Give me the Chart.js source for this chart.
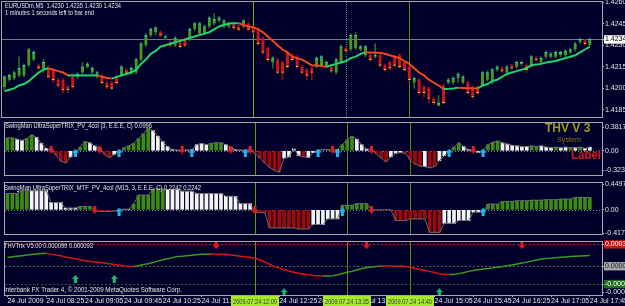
<!DOCTYPE html>
<html>
<head>
<meta charset="utf-8">
<script src="https://cdn.jsdelivr.net/npm/chart.js@4.4.1/dist/chart.umd.min.js"></script>
<style>
  html, body { margin: 0; padding: 0; background: #00002a; width: 625px; height: 306px; overflow: hidden; }
  canvas { position: absolute; left: 0; }
</style>
</head>
<body>
<canvas id="price" width="625" height="119" style="top:0px"></canvas>
<canvas id="trix" width="625" height="62" style="top:118px"></canvas>
<canvas id="mtf" width="625" height="61" style="top:178px"></canvas>
<canvas id="thv" width="625" height="69" style="top:237px"></canvas>
<script>
// 5 minute bars, 24 Jul 2009 from 07:45
var bars = [];
for (var i = 0; i < 123; i++) {
  var m = 7 * 60 + 45 + i * 5;
  bars.push(('0' + Math.floor(m / 60)).slice(-2) + ':' + ('0' + m % 60).slice(-2));
}
var timeLabels = ["24 Jul 2009", "24 Jul 08:25", "24 Jul 09:05", "24 Jul 09:45", "24 Jul 10:25", "24 Jul 11:05",
  "24 Jul 11:45", "24 Jul 12:25", "24 Jul 13:05", "24 Jul 13:45", "24 Jul 14:25", "24 Jul 15:05",
  "24 Jul 15:45", "24 Jul 16:25", "24 Jul 17:05", "24 Jul 17:45"];
var vLines = [51, 70, 83];
var vLineText = ["2009.07.24 12:00", "2009.07.24 13:35", "2009.07.24 14:40"];

var opens = [1.4201,1.4206,1.4207,1.4209,1.4209,1.4216,1.4220,1.4216,1.4213,1.4214,
  1.4213,1.4206,1.4206,1.4201,1.4208,1.4208,1.4211,1.4215,1.4211,1.4208,
  1.4209,1.4204,1.4204,1.4208,1.4209,1.4213,1.4211,1.4211,1.4220,1.4230,
  1.4237,1.4239,1.4239,1.4235,1.4232,1.4230,1.4234,1.4234,1.4234,1.4241,
  1.4238,1.4238,1.4243,1.4245,1.4247,1.4243,1.4243,1.4245,1.4243,1.4243,
  1.4245,1.4242,1.4241,1.4235,1.4228,1.4218,1.4220,1.4218,1.4225,1.4223,
  1.4222,1.4215,1.4213,1.4214,1.4215,1.4216,1.4215,1.4215,1.4211,1.4218,
  1.4228,1.4227,1.4228,1.4227,1.4223,1.4223,1.4222,1.4223,1.4216,1.4218,
  1.4222,1.4223,1.4218,1.4215,1.4204,1.4206,1.4201,1.4200,1.4193,1.4188,
  1.4202,1.4204,1.4204,1.4207,1.4204,1.4204,1.4201,1.4201,1.4202,1.4206,
  1.4204,1.4213,1.4214,1.4211,1.4216,1.4215,1.4217,1.4216,1.4216,1.4221,
  1.4218,1.4222,1.4222,1.4222,1.4223,1.4223,1.4225,1.4227,1.4232,1.4233,1.4230];
var closes = [1.4208,1.4209,1.4211,1.4214,1.4216,1.4227,1.4225,1.4214,1.4218,1.4208,
  1.4206,1.4202,1.4199,1.4199,1.4201,1.4210,1.4215,1.4217,1.4214,1.4211,
  1.4204,1.4201,1.4200,1.4204,1.4215,1.4211,1.4214,1.4220,1.4231,1.4237,
  1.4241,1.4242,1.4237,1.4236,1.4230,1.4235,1.4229,1.4230,1.4241,1.4245,
  1.4245,1.4243,1.4249,1.4248,1.4249,1.4247,1.4245,1.4242,1.4241,1.4247,
  1.4241,1.4239,1.4231,1.4225,1.4220,1.4221,1.4211,1.4211,1.4215,1.4220,
  1.4215,1.4211,1.4209,1.4211,1.4221,1.4222,1.4218,1.4212,1.4220,1.4229,
  1.4226,1.4237,1.4237,1.4229,1.4229,1.4220,1.4223,1.4216,1.4213,1.4214,
  1.4216,1.4215,1.4213,1.4206,1.4207,1.4197,1.4197,1.4193,1.4190,1.4190,
  1.4190,1.4206,1.4207,1.4210,1.4208,1.4197,1.4194,1.4197,1.4211,1.4211,
  1.4213,1.4215,1.4212,1.4215,1.4214,1.4218,1.4218,1.4213,1.4222,1.4220,
  1.4221,1.4225,1.4224,1.4225,1.4225,1.4226,1.4227,1.4231,1.4234,1.4231,1.4234];
var highs = [1.4209,1.4210,1.4212,1.4222,1.4217,1.4228,1.4226,1.4217,1.4220,1.4216,
  1.4214,1.4207,1.4207,1.4202,1.4210,1.4211,1.4218,1.4218,1.4215,1.4212,
  1.4210,1.4205,1.4205,1.4209,1.4216,1.4214,1.4215,1.4221,1.4232,1.4238,
  1.4242,1.4243,1.4240,1.4237,1.4233,1.4236,1.4235,1.4235,1.4242,1.4246,
  1.4246,1.4244,1.4250,1.4252,1.4250,1.4248,1.4246,1.4246,1.4244,1.4248,
  1.4246,1.4243,1.4242,1.4236,1.4229,1.4222,1.4221,1.4219,1.4226,1.4224,
  1.4223,1.4216,1.4214,1.4215,1.4222,1.4223,1.4219,1.4216,1.4221,1.4230,
  1.4229,1.4238,1.4239,1.4230,1.4230,1.4224,1.4231,1.4224,1.4217,1.4219,
  1.4223,1.4224,1.4219,1.4216,1.4208,1.4207,1.4202,1.4201,1.4194,1.4195,
  1.4203,1.4207,1.4208,1.4211,1.4209,1.4205,1.4202,1.4202,1.4212,1.4212,
  1.4214,1.4216,1.4215,1.4216,1.4217,1.4219,1.4219,1.4217,1.4223,1.4222,
  1.4222,1.4226,1.4225,1.4226,1.4226,1.4227,1.4228,1.4232,1.4235,1.4234,1.4235];
var lows = [1.4199,1.4205,1.4206,1.4208,1.4208,1.4215,1.4219,1.4213,1.4211,1.4207,
  1.4204,1.4201,1.4197,1.4197,1.4200,1.4207,1.4210,1.4214,1.4210,1.4207,
  1.4203,1.4200,1.4199,1.4203,1.4208,1.4210,1.4210,1.4210,1.4219,1.4229,
  1.4236,1.4237,1.4236,1.4234,1.4229,1.4229,1.4228,1.4229,1.4233,1.4240,
  1.4237,1.4237,1.4242,1.4244,1.4246,1.4242,1.4242,1.4241,1.4240,1.4242,
  1.4240,1.4238,1.4230,1.4224,1.4219,1.4214,1.4210,1.4206,1.4214,1.4219,
  1.4214,1.4210,1.4206,1.4206,1.4214,1.4215,1.4214,1.4211,1.4210,1.4217,
  1.4225,1.4226,1.4227,1.4226,1.4222,1.4219,1.4221,1.4215,1.4212,1.4213,
  1.4215,1.4214,1.4212,1.4205,1.4200,1.4196,1.4194,1.4190,1.4189,1.4188,
  1.4189,1.4203,1.4203,1.4204,1.4203,1.4196,1.4193,1.4196,1.4201,1.4205,
  1.4203,1.4212,1.4211,1.4210,1.4213,1.4214,1.4216,1.4211,1.4215,1.4219,
  1.4217,1.4221,1.4221,1.4221,1.4222,1.4222,1.4224,1.4226,1.4231,1.4230,1.4230];
var ma = [1.4198,1.4199,1.4200,1.4202,1.4203,1.4205,1.4208,1.4211,1.4213,1.4214,
  1.4213,1.4212,1.4211,1.4209,1.4209,1.4209,1.4209,1.4209,1.4209,1.4209,
  1.4208,1.42072,1.42068,1.4208,1.4209,1.4210,1.4211,1.4213,1.4217,1.4220,
  1.4224,1.4226,1.4229,1.4230,1.4231,1.4232,1.4233,1.4234,1.4235,1.4236,
  1.4237,1.4238,1.4239,1.4241,1.4243,1.4244,1.4245,1.42452,1.42453,1.4244,
  1.4243,1.42425,1.4241,1.4239,1.4236,1.4233,1.4230,1.4227,1.4225,1.4222,
  1.4221,1.4220,1.4218,1.4216,1.42158,1.42155,1.4215,1.4216,1.4217,1.4218,
  1.4219,1.4221,1.4222,1.4224,1.4225,1.42249,1.42248,1.42247,1.4224,1.4223,
  1.4222,1.4221,1.4219,1.4217,1.4214,1.4211,1.4209,1.4206,1.4204,1.4202,
  1.41996,1.41997,1.41999,1.42005,1.42003,1.42001,1.4200,1.41999,1.4202,1.4203,
  1.4205,1.4206,1.4208,1.4210,1.4211,1.4212,1.4213,1.4214,1.4216,1.42165,
  1.4217,1.4218,1.42185,1.4219,1.4220,1.4221,1.4222,1.4223,1.4225,1.4227,1.4229];
var bid = 1.4234;
var priceTicks = [1.4185, 1.4200, 1.4215, 1.4230, 1.4234, 1.4245, 1.4260];

var trixVal = [0.21,0.21,0.19,0.17,0.20,0.26,0.22,0.12,0.04,0.02,
  -0.07,-0.17,-0.20,-0.10,-0.03,0.06,0.15,0.13,0.08,0.04,
  -0.06,-0.11,-0.06,-0.02,0.05,0.08,0.12,0.20,0.28,0.37,
  0.33,0.24,0.15,0.07,0.02,0.01,0.005,0.01,0.02,0.10,
  0.12,0.10,0.12,0.13,0.13,0.10,0.06,0.02,0.01,0.01,
  0.02,-0.04,-0.12,-0.20,-0.27,-0.32,-0.35,-0.12,-0.10,0.03,
  -0.08,-0.10,-0.11,-0.03,0.01,0.02,0.02,0.01,0.02,0.10,
  0.18,0.24,0.19,0.10,0.03,0.01,-0.05,-0.12,-0.18,-0.10,
  -0.04,-0.03,-0.04,-0.15,-0.22,-0.25,-0.26,-0.28,-0.26,-0.16,
  -0.08,-0.02,0.06,0.13,0.07,0.02,0.01,-0.03,0.01,0.10,
  0.14,0.16,0.13,0.11,0.09,0.08,0.07,0.07,0.08,0.07,
  0.08,0.06,0.05,0.06,0.05,0.06,0.05,0.05,0.06,0.04,0.06];
var trixCol = ("GGWWGGWWWW" + "RRRWWGGWWW" + "RRWWGGGGGG" + "WWWWWWWWWW" + "WWGGGWWWWW" + "WRRRRRRWWW" +
  "WRWWWGGWWG" + "GGWWWWRRRW" + "WWRRRRWRRW" + "WWGGWWWWWG" + "GGWWWWWWGG" + "WWWGWWGWGWW").split('');
var trixUp = [14, 23, 38, 49, 64, 68, 91, 98];
var trixDn = [9, 19, 36, 46, 50, 67, 75, 96];
var trixTicks = [0.3817, 0, -0.3234];
var trixTickText = ["0.3817", "0.00", "-0.3234"];

var mtfVal = [0.29,0.29,0.29,0.34,0.34,0.34,0.34,0.34,0.34,0.13,
  0.13,0.13,0.03,0.03,0.03,0.06,0.06,0.06,0.0,-0.03,
  -0.03,-0.03,-0.02,-0.01,0.01,0.01,0.10,0.26,0.26,0.26,
  0.37,0.37,0.37,0.36,0.36,0.36,0.33,0.33,0.33,0.29,
  0.29,0.29,0.29,0.29,0.29,0.24,0.24,0.24,0.11,0.11,
  0.11,-0.05,-0.05,-0.05,-0.32,-0.32,-0.32,-0.32,-0.32,-0.32,
  -0.34,-0.34,-0.34,-0.26,-0.26,-0.26,-0.16,-0.16,-0.16,0.08,
  0.08,0.08,0.11,0.11,0.11,0.0,0.0,0.0,0.0,0.0,
  -0.19,-0.19,-0.19,-0.16,-0.16,-0.16,-0.16,-0.40,-0.40,-0.40,
  -0.24,-0.24,-0.24,-0.19,-0.19,-0.19,-0.04,-0.04,-0.04,0.10,
  0.10,0.10,0.15,0.15,0.15,0.16,0.16,0.16,0.17,0.17,
  0.17,0.18,0.18,0.18,0.19,0.19,0.19,0.22,0.22,0.22,0.22];
var mtfCol = ("GGGGGWWWWW" + "WWWWWGGGRR" + "RRRRWWGGGG" + "GGGWWWWWWW" + "WWWWWWWWWW" + "WRRRRRRRRR" +
  "RRRWWWWWWG" + "GGGGGRRRRR" + "RRRRRRRRRR" + "WWWWWWWWWG" + "GGGGGGGGGG" + "GGGGGGGGGGG").split('');
var mtfUp = [23, 69, 98];
var mtfDn = [18, 51, 75];
var mtfTicks = [0.4497, 0, -0.4178];
var mtfTickText = ["0.4497", "0.00", "-0.4178"];

var thvVal = [126e-6,134e-6,143e-6,151e-6,159e-6,167e-6,176e-6,182e-6,186e-6,173e-6,
  162e-6,149e-6,132e-6,119e-6,107e-6,92e-6,80e-6,69e-6,59e-6,53e-6,
  46e-6,35e-6,24e-6,15e-6,5e-6,-3e-6,-5e-6,8e-6,24e-6,35e-6,
  53e-6,73e-6,92e-6,108e-6,123e-6,138e-6,143e-6,150e-6,157e-6,165e-6,
  170e-6,173e-6,174e-6,173.5e-6,173e-6,167e-6,159e-6,153e-6,143e-6,135e-6,
  126e-6,113e-6,92e-6,62e-6,28e-6,-3e-6,-27e-6,-50e-6,-68e-6,-84e-6,
  -100e-6,-112e-6,-123e-6,-132e-6,-135e-6,-138e-6,-138e-6,-135e-6,-122e-6,-104e-6,
  -86e-6,-73e-6,-53e-6,-35e-6,-19e-6,-10e-6,-2e-6,4e-6,3e-6,2e-6,
  1e-6,-1e-6,-5e-6,-15e-6,-32e-6,-46e-6,-62e-6,-73e-6,-90e-6,-107e-6,
  -116e-6,-117e-6,-116e-6,-105e-6,-92e-6,-73e-6,-59e-6,-49e-6,-39e-6,-32e-6,
  -23e-6,-15e-6,-5e-6,7e-6,19e-6,32e-6,45e-6,59e-6,73e-6,89e-6,
  103e-6,111e-6,116e-6,122e-6,127e-6,132e-6,138e-6,143e-6,147e-6,150e-6,153e-6];
var thvLevels = [0.000312, 0, -0.000254];
var thvUp = [14, 22, 57, 89];
var thvUpVal = [-0.00018, -0.00018, -0.00037, -0.00037];
var thvDn = [43, 74, 106];
var thvDnVal = [0.0003, 0.0003, 0.0003];
var thvTicks = [0.000312, 0, -0.000254, -0.00037];
var thvTickText = ["0.000312", "0.0000", "-0.000254", "-0.00037"];

var FONT = "'Liberation Sans', Arial, sans-serif";
Chart.defaults.font.family = FONT;
Chart.defaults.font.size = 7;
Chart.defaults.animation = false;
Chart.defaults.events = [];
Chart.defaults.plugins.legend.display = false;
Chart.defaults.plugins.tooltip.enabled = false;

var TXT = '#e4e4e4';
var FRAME = '#a8a8a8';
var HIST = { G: '#3c8c14', W: '#f4f4f4', R: '#9c0a0a' };

function arrowImg(color, up) {
  var c = document.createElement('canvas');
  c.width = 7; c.height = 8;
  var g = c.getContext('2d');
  g.fillStyle = color;
  g.beginPath();
  if (up) {
    g.moveTo(3.5, 0); g.lineTo(7, 4); g.lineTo(5, 4); g.lineTo(5, 8); g.lineTo(2, 8); g.lineTo(2, 4); g.lineTo(0, 4);
  } else {
    g.moveTo(3.5, 8); g.lineTo(7, 4); g.lineTo(5, 4); g.lineTo(5, 0); g.lineTo(2, 0); g.lineTo(2, 4); g.lineTo(0, 4);
  }
  g.closePath();
  g.fill();
  return c;
}
var cyanUp = arrowImg('#22b4f0', true);
var redDown = arrowImg('#e01c1c', false);
var greenUp = arrowImg('#14c070', true);

function marks(idx, vals) {
  return bars.map(function (b, i) {
    var k = idx.indexOf(i);
    return k < 0 ? null : (Array.isArray(vals) ? vals[k] : vals);
  });
}

function arrowSet(idx, vals, img) {
  return { type: 'line', data: marks(idx, vals), showLine: false, pointStyle: img, pointRadius: 3, order: 0 };
}

function xAxis(show) {
  return {
    type: 'category', offset: true, display: show,
    afterBuildTicks: function (s) { s.ticks = s.ticks.filter(function (t, i) { return i % 8 === 0; }); },
    afterFit: function (s) { s.height = show ? 11 : 0; s.paddingLeft = 0; s.paddingRight = 0; },
    ticks: { autoSkip: false, maxRotation: 0, minRotation: 0, align: 'start', padding: 0, color: TXT,
      callback: function (v, i) { return timeLabels[i]; } },
    grid: { drawOnChartArea: false, offset: false, tickLength: 2, color: '#b8b8b8' },
    border: { display: false }
  };
}

function yAxis(min, max, ticks, texts, boxes, inks) {
  return {
    position: 'right', min: min, max: max,
    afterBuildTicks: function (s) { s.ticks = ticks.map(function (v) { return { value: v }; }); },
    afterFit: function (s) { s.width = 23; s.paddingTop = 0; s.paddingBottom = 0; },
    ticks: {
      autoSkip: false, padding: 1,
      callback: function (v, i) { return texts[i]; },
      color: function (c) { return (inks && inks[c.index]) || TXT; },
      showLabelBackdrop: function (c) { return !!(boxes && boxes[c.index]); },
      backdropColor: function (c) { return (boxes && boxes[c.index]) || 'rgba(0,0,0,0)'; },
      backdropPadding: { top: 0, bottom: 0, left: 1, right: 4 }
    },
    grid: { drawOnChartArea: false, tickLength: 2, color: '#b8b8b8' },
    border: { display: false }
  };
}

// levels, vertical lines, frame and captions of one MT4 pane
function pane(cfg) {
  return {
    id: 'pane',
    beforeDatasetsDraw: function (chart) {
      var ctx = chart.ctx, a = chart.chartArea, x = chart.scales.x, y = chart.scales.y;
      ctx.save();
      ctx.lineWidth = 1;
      (cfg.levels || []).forEach(function (l) {
        var py = Math.round(y.getPixelForValue(l.v)) + 0.5;
        ctx.strokeStyle = l.c;
        ctx.setLineDash(l.dash || []);
        ctx.beginPath(); ctx.moveTo(a.left, py); ctx.lineTo(a.right, py); ctx.stroke();
      });
      vLines.forEach(function (v, k) {
        var px = Math.round(x.getPixelForValue(v)) + 0.5;
        ctx.strokeStyle = cfg.vColors[k];
        ctx.setLineDash(cfg.vDash && cfg.vDash[k] ? cfg.vDash[k] : []);
        ctx.beginPath(); ctx.moveTo(px, a.top); ctx.lineTo(px, a.bottom); ctx.stroke();
      });
      ctx.restore();
    },
    afterDraw: function (chart) {
      var ctx = chart.ctx, a = chart.chartArea, x = chart.scales.x;
      ctx.save();
      ctx.strokeStyle = FRAME;
      ctx.lineWidth = 1;
      ctx.strokeRect(a.left - 0.5, a.top - 0.5, a.right - a.left + 1, a.bottom - a.top + 1);
      ctx.textBaseline = 'middle';
      (cfg.texts || []).forEach(function (t) {
        ctx.font = t.font || '8px ' + FONT;
        ctx.fillStyle = t.color || TXT;
        ctx.fillText(t.s, t.x, t.y, t.w);
      });
      if (cfg.timeBoxes) {
        ctx.font = '8px ' + FONT;
        vLines.forEach(function (v, k) {
          var px = x.getPixelForValue(v);
          ctx.fillStyle = '#a6e82a';
          ctx.fillRect(Math.round(px) - 24, a.bottom + 1, 48, 10);
          ctx.fillStyle = '#3a3a3a';
          ctx.fillText(vLineText[k], Math.round(px) - 22, a.bottom + 6.5, 44);
        });
      }
      ctx.restore();
    }
  };
}

var vPane = ['#5f9e00', '#5a8a20', '#4f8f00'];

// price window
var isUp = closes.map(function (c, i) { return c >= opens[i]; });
new Chart(document.getElementById('price'), {
  type: 'bar',
  data: {
    labels: bars,
    datasets: [
      { type: 'bar', data: lows.map(function (l, i) { return [l, highs[i]]; }), grouped: false, barThickness: 1, order: 3,
        backgroundColor: isUp.map(function (u) { return u ? '#2a6a1c' : '#8a1414'; }) },
      { type: 'bar', data: opens.map(function (o, i) { return [o, closes[i]]; }), grouped: false, barThickness: 3, order: 2,
        backgroundColor: isUp.map(function (u) { return u ? '#449a22' : '#d0141e'; }),
        borderColor: isUp.map(function (u) { return u ? '#28d8f0' : '#f0c414'; }),
        borderSkipped: false,
        borderWidth: function (c) { return isUp[c.dataIndex] ? { top: 1, right: 0, bottom: 0, left: 0 } : { top: 0, right: 0, bottom: 1, left: 0 }; } },
      { type: 'line', data: ma, borderWidth: 2, pointRadius: 0, order: 1,
        segment: { borderColor: function (c) { return c.p1.parsed.y < c.p0.parsed.y ? '#f2461a' : '#1ed46c'; } } }
    ]
  },
  options: {
    responsive: false,
    layout: { padding: { left: 2, right: 0, top: 2, bottom: 2 } },
    scales: {
      x: xAxis(false),
      y: yAxis(1.41801, 1.4260, priceTicks, priceTicks.map(function (v) { return v.toFixed(4); }),
        [null, null, null, null, '#ffffff', null, null], [null, null, null, null, '#000000', null, null])
    }
  },
  plugins: [pane({
    levels: [{ v: bid, c: '#7c7c7c' }],
    vColors: ['#6cb400', '#70806a', '#4f8f00'], vDash: [null, [1, 1], null],
    texts: [
      { s: 'EURUSDm,M5  1.4230 1.4235 1.4230 1.4234', x: 5, y: 6, w: 116 },
      { s: '1 minutes 1 seconds left to bar end', x: 5, y: 13, w: 89 }
    ]
  })]
});

// SwingMan TRIX window
new Chart(document.getElementById('trix'), {
  type: 'bar',
  data: {
    labels: bars,
    datasets: [
      { type: 'bar', data: trixVal, grouped: false, barThickness: 3, order: 2,
        backgroundColor: trixCol.map(function (c) { return HIST[c]; }) },
      { type: 'line', data: trixVal, borderColor: '#6c6c6c', borderWidth: 1, pointRadius: 0, order: 1 },
      arrowSet(trixUp, -0.03, cyanUp),
      arrowSet(trixDn, 0.02, redDown)
    ]
  },
  options: {
    responsive: false,
    layout: { padding: { left: 2, right: 0, top: 2, bottom: 2 } },
    scales: { x: xAxis(false), y: yAxis(-0.397, 0.456, trixTicks, trixTickText) }
  },
  plugins: [pane({
    levels: [{ v: 0, c: '#8a8a8a', dash: [1, 2] }],
    vColors: vPane,
    texts: [
      { s: 'SwingMan UltraSuperTRIX_PV_4col (3, E.E.E, C) 0.0996', x: 5, y: 7.5, w: 147 },
      { s: 'THV V 3', x: 545, y: 11, w: 48, font: 'bold 12px ' + FONT, color: '#9c9c14' },
      { s: 'System', x: 557, y: 22, w: 24, color: '#8a7410' },
      { s: 'Label', x: 571, y: 38, w: 30, font: 'bold 12px ' + FONT, color: '#d81818' }
    ]
  })]
});

// SwingMan MTF window
new Chart(document.getElementById('mtf'), {
  type: 'bar',
  data: {
    labels: bars,
    datasets: [
      { type: 'bar', data: mtfVal, grouped: false, barThickness: 3, order: 2,
        backgroundColor: mtfCol.map(function (c) { return HIST[c]; }) },
      { type: 'line', data: mtfVal, borderColor: '#6c6c6c', borderWidth: 1, pointRadius: 0, order: 1 },
      arrowSet(mtfUp, -0.03, cyanUp),
      arrowSet(mtfDn, 0.0, redDown)
    ]
  },
  options: {
    responsive: false,
    layout: { padding: { left: 2, right: 0, top: 2, bottom: 2 } },
    scales: { x: xAxis(false), y: yAxis(-0.429, 0.476, mtfTicks, mtfTickText) }
  },
  plugins: [pane({
    levels: [{ v: 0, c: '#8a8a8a', dash: [1, 2] }],
    vColors: vPane,
    texts: [{ s: 'SwingMan UltraSuperTRIX_MTF_PV_4col (M15, 3, E.E.E, C) 0.2242 0.2242', x: 4, y: 9.5, w: 197 }]
  })]
});

// THVTrix window with time axis
new Chart(document.getElementById('thv'), {
  type: 'line',
  data: {
    labels: bars,
    datasets: [
      { data: thvVal, borderWidth: 1.5, pointRadius: 0, order: 1,
        segment: { borderColor: function (c) { return c.p1.parsed.y < c.p0.parsed.y ? '#d81414' : '#3c9a24'; } } },
      arrowSet(thvUp, thvUpVal, greenUp),
      arrowSet(thvDn, thvDnVal, redDown)
    ]
  },
  options: {
    responsive: false,
    layout: { padding: { left: 2, right: 0, top: 2, bottom: 0 } },
    scales: {
      x: xAxis(true),
      y: yAxis(-0.00041, 0.000346, thvTicks, thvTickText,
        ['#c81818', '#a4a4a4', '#1e6e1e', null], ['#ffffff', '#202020', '#ffffff', null])
    }
  },
  plugins: [pane({
    levels: [
      { v: thvLevels[0], c: '#c81818', dash: [2, 2] },
      { v: thvLevels[1], c: '#5e5e48', dash: [2, 2] },
      { v: thvLevels[2], c: '#38601a', dash: [2, 2] }
    ],
    vColors: vPane,
    timeBoxes: true,
    texts: [
      { s: 'THVTrix V5.00 0.000099 0.000093', x: 4, y: 8.5, w: 89 },
      { s: 'Interbank FX Trader 4, \u00a9 2001-2009 MetaQuotes Software Corp.', x: 4, y: 53, w: 178 }
    ]
  })]
});
</script>
</body>
</html>
